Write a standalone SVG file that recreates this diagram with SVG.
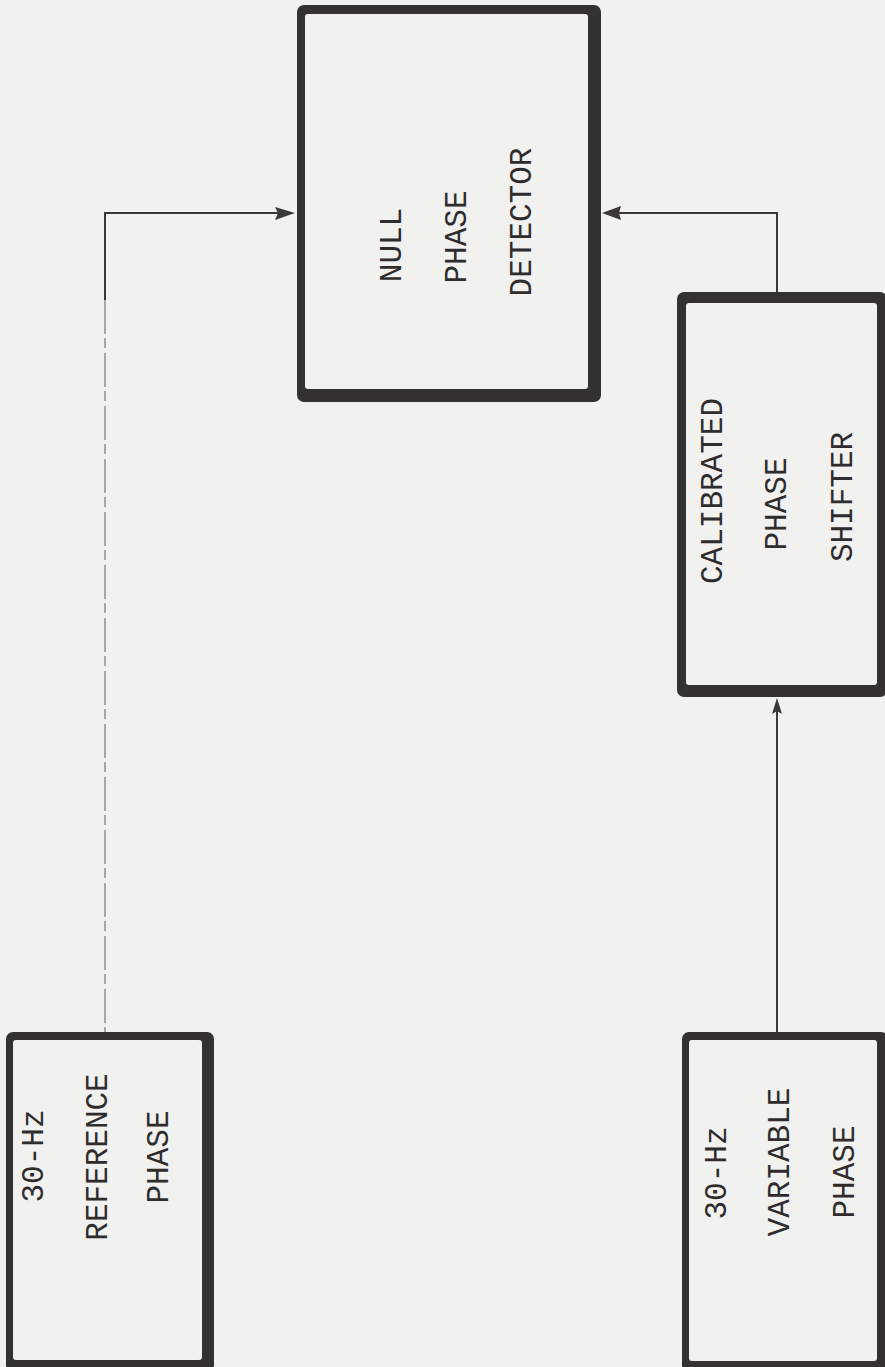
<svg xmlns="http://www.w3.org/2000/svg" width="885" height="1367" viewBox="0 0 885 1367">
  <style>
    .frame { fill: #333132; }
    .inner { fill: #f1f1ef; }
    .lbl { font-family: "Liberation Mono", "Courier New", monospace; font-size: 31px; fill: #2e2c2d; text-anchor: middle; }
    .wire { fill: none; stroke: #3a3839; stroke-width: 2; }
    .faint { fill: none; stroke: #8a8889; stroke-width: 1.4; stroke-dasharray: 34 4 10 5; }
    .head { fill: #3a3839; }
  </style>
  <rect width="885" height="1367" fill="#f1f1ef"/>

  <g id="connectors">
    <path class="wire" d="M105,300 V213 H280"/>
    <path class="faint" d="M105,300 V1034"/>
    <polygon class="head" points="295,213 275,207 278,213 275,220"/>
    <path class="wire" d="M777,294 V213 H618"/>
    <polygon class="head" points="602,213 621,206 619,213 621,220"/>
    <path class="wire" d="M777,1034 V710"/>
    <polygon class="head" points="777,698 772,714 777,711 782,714"/>
  </g>

  <g id="null-phase-detector">
    <rect class="frame" x="297" y="5" width="304" height="397" rx="7"/>
    <rect class="inner" x="305" y="14" width="283" height="375" rx="3"/>
    <text class="lbl" transform="translate(401,245) rotate(-90)">NULL</text>
    <text class="lbl" transform="translate(466,237) rotate(-90)">PHASE</text>
    <text class="lbl" transform="translate(531,222) rotate(-90)">DETECTOR</text>
  </g>

  <g id="calibrated-phase-shifter">
    <rect class="frame" x="677" y="292" width="210" height="405" rx="7"/>
    <rect class="inner" x="686" y="303" width="191" height="382" rx="3"/>
    <text class="lbl" transform="translate(722,491) rotate(-90)">CALIBRATED</text>
    <text class="lbl" transform="translate(786,504) rotate(-90)">PHASE</text>
    <text class="lbl" transform="translate(852,497) rotate(-90)">SHIFTER</text>
  </g>

  <g id="reference-phase">
    <rect class="frame" x="6" y="1032" width="208" height="340" rx="7"/>
    <rect class="inner" x="13" y="1040" width="189" height="320" rx="3"/>
    <text class="lbl" transform="translate(43,1156) rotate(-90)">30-Hz</text>
    <text class="lbl" transform="translate(107,1157) rotate(-90)">REFERENCE</text>
    <text class="lbl" transform="translate(168,1157) rotate(-90)">PHASE</text>
  </g>

  <g id="variable-phase">
    <rect class="frame" x="682" y="1032" width="206" height="340" rx="7"/>
    <rect class="inner" x="689" y="1040" width="188" height="321" rx="3"/>
    <text class="lbl" transform="translate(726,1173) rotate(-90)">30-Hz</text>
    <text class="lbl" transform="translate(789,1162) rotate(-90)">VARIABLE</text>
    <text class="lbl" transform="translate(854,1172) rotate(-90)">PHASE</text>
  </g>
</svg>
